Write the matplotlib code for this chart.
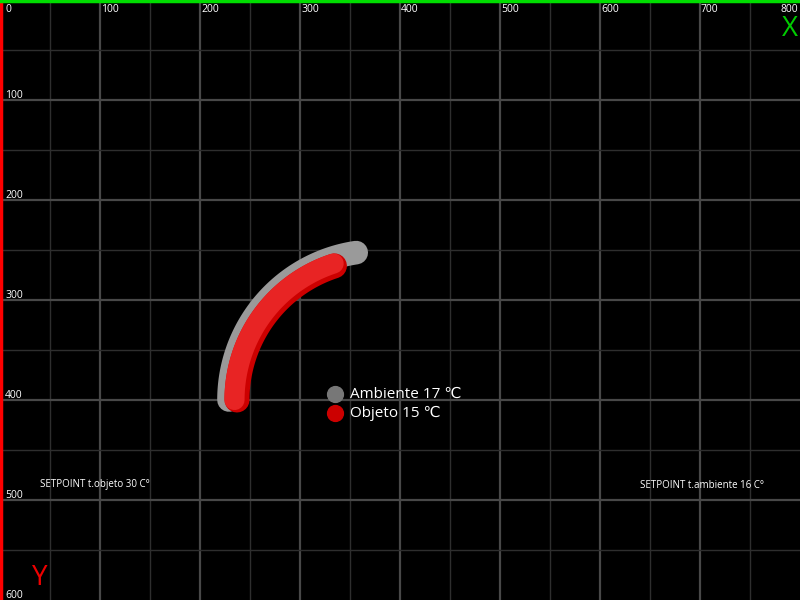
import numpy as np
import matplotlib
matplotlib.use('Agg')
import matplotlib.pyplot as plt

W = 800
H = 600

# readings
labels = ['Ambiente', 'Objeto']
temps = [17, 15]
setpoint_objeto = 30
setpoint_ambiente = 16

tick_vals = [0, 100, 200, 300, 400, 500, 600, 700, 800]

plt.rcParams['font.family'] = ['Open Sans', 'DejaVu Sans']

fig = plt.figure(figsize=(8, 6), dpi=100, facecolor='black')
ax = fig.add_axes([0, 0, 1, 1])
ax.set_facecolor('black')
ax.set_xlim(0, W)
ax.set_ylim(H, 0)
ax.axis('off')

# grid
for v in range(50, W, 50):
    major = v % 100 == 0
    ax.axvline(v, color='#484848' if major else '#2e2e2e', lw=1.6 if major else 1.0, zorder=1)
for v in range(50, H, 50):
    major = v % 100 == 0
    ax.axhline(v, color='#484848' if major else '#2e2e2e', lw=1.6 if major else 1.0, zorder=1)

# axes lines
ax.axvline(1, color='#ff0000', lw=2.5, zorder=5)
ax.axhline(1, color='#00dd00', lw=2.5, zorder=5)

# tick labels
for v in tick_vals:
    if v == 0:
        ax.text(5, 9, '0', color='white', fontsize=7.5, va='center', ha='left')
    elif v == 800:
        ax.text(798, 9, '800', color='white', fontsize=7.5, va='center', ha='right')
    else:
        ax.text(v + 1, 9, str(v), color='white', fontsize=7.5, va='center', ha='left')
for v in tick_vals[1:7]:
    ax.text(5, v - 5, str(v), color='white', fontsize=7.5, va='center', ha='left')

ax.text(790, 29, 'X', color='#00cc00', fontsize=20, ha='center', va='center')
ax.text(40, 578, 'Y', color='#ee0000', fontsize=20, ha='center', va='center')

# arcs
cx, cy = 378, 400
deg_per_unit = 4.8

def arc(r, val):
    a = np.radians(np.linspace(180, 180 - val * deg_per_unit, 100))
    return cx + r * np.cos(a), cy - r * np.sin(a)

x, y = arc(149, temps[0])
ax.plot(x, y, color='#9a9a9a', lw=17, solid_capstyle='round', zorder=3)
x, y = arc(141, temps[1])
ax.plot(x, y, color='#cc0000', lw=18, solid_capstyle='round', zorder=4)
x, y = arc(143.5, temps[1])
ax.plot(x, y, color='#e82424', lw=14.5, solid_capstyle='round', zorder=4)

# legend
ax.scatter([335], [394], s=130, color='#777777', zorder=6)
ax.scatter([335], [413], s=130, color='#cc0000', zorder=6)
ax.text(350, 394, f'{labels[0]} {temps[0]} \u2103', color='white', fontsize=11, va='center', ha='left')
ax.text(350, 413, f'{labels[1]} {temps[1]} \u2103', color='white', fontsize=11, va='center', ha='left')

ax.text(40, 485, f'SETPOINT t.objeto {setpoint_objeto} C\u00b0', color='white', fontsize=7, va='center', ha='left')
ax.text(640, 485, f'SETPOINT t.ambiente {setpoint_ambiente} C\u00b0', color='white', fontsize=7, va='center', ha='left')

fig.savefig('out.png', dpi=100, facecolor='black')
